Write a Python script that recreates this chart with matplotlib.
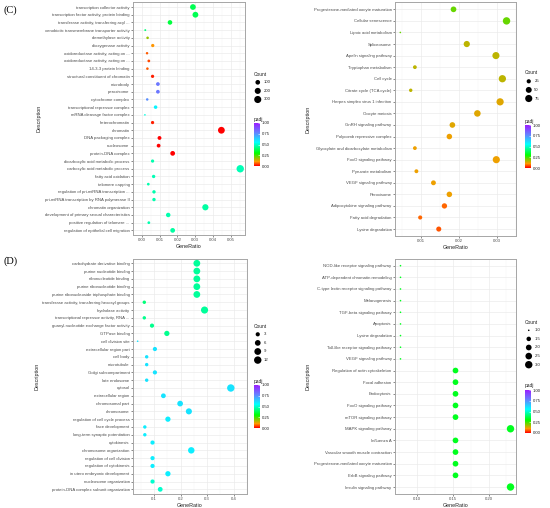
import numpy as np
import matplotlib
matplotlib.use("Agg")
import matplotlib.pyplot as plt
from matplotlib.colors import LinearSegmentedColormap, Normalize
from matplotlib.colorbar import ColorbarBase

plt.rcParams['font.family'] = ['Liberation Sans', 'DejaVu Sans']

# ---------------- data ----------------
# (C) left: GO enrichment
c_go_terms = [
    "transcription collector activity",
    "transcription factor activity, protein binding",
    "transferase activity, transferring acyl ...",
    "xenobiotic transmembrane transporter activity",
    "demethylase activity",
    "dioxygenase activity",
    "oxidoreductase activity, acting on ...",
    "oxidoreductase activity, acting on ...",
    "14-3-3 protein binding",
    "structural constituent of chromatin",
    "microbody",
    "peroxisome",
    "cytochrome complex",
    "transcriptional repressor complex",
    "mRNA cleavage factor complex",
    "heterochromatin",
    "chromatin",
    "DNA packaging complex",
    "nucleosome",
    "protein-DNA complex",
    "dicarboxylic acid metabolic process",
    "carboxylic acid metabolic process",
    "fatty acid oxidation",
    "telomere capping",
    "regulation of pri-miRNA transcription ...",
    "pri-miRNA transcription by RNA polymerase II",
    "chromatin organization",
    "development of primary sexual characteristics",
    "positive regulation of telomere ...",
    "regulation of epithelial cell migration",
]
c_go_ratio = [0.0287, 0.0301, 0.0158, 0.0019, 0.0032, 0.0061, 0.0029, 0.0039,
              0.0031, 0.0060, 0.0090, 0.0090, 0.0030, 0.0077, 0.0017, 0.0060,
              0.0447, 0.0099, 0.0094, 0.0173, 0.0060, 0.0553, 0.0066, 0.0036,
              0.0068, 0.0068, 0.0357, 0.0148, 0.0039, 0.0173]
c_go_count = [172, 181, 95, 11, 19, 37, 17, 23, 19, 36, 54, 54, 18, 46, 10, 36,
              268, 59, 56, 104, 36, 332, 40, 22, 41, 41, 214, 89, 23, 104]
c_go_padj = [0.38, 0.38, 0.36, 0.42, 0.18, 0.10, 0.06, 0.05, 0.06, 0.02,
             0.80, 0.80, 0.75, 0.57, 0.52, 0.02, 0.00, 0.00, 0.00, 0.00,
             0.47, 0.48, 0.48, 0.47, 0.47, 0.47, 0.46, 0.47, 0.47, 0.46]
c_go_xticks = [0.00, 0.01, 0.02, 0.03, 0.04, 0.05]
c_go_breaks = [100, 200, 300]

# (C) right: KEGG enrichment
c_kegg_terms = [
    "Progesterone-mediated oocyte maturation",
    "Cellular senescence",
    "Lipoic acid metabolism",
    "Spliceosome",
    "Apelin signaling pathway",
    "Tryptophan metabolism",
    "Cell cycle",
    "Citrate cycle (TCA cycle)",
    "Herpes simplex virus 1 infection",
    "Oocyte meiosis",
    "GnRH signaling pathway",
    "Polycomb repressive complex",
    "Glyoxylate and dicarboxylate metabolism",
    "FoxO signaling pathway",
    "Pyruvate metabolism",
    "VEGF signaling pathway",
    "Peroxisome",
    "Adipocytokine signaling pathway",
    "Fatty acid degradation",
    "Lysine degradation",
]
c_kegg_ratio = [0.0185, 0.0325, 0.00445, 0.0220, 0.0297, 0.0083, 0.0314, 0.0072,
                0.0308, 0.0248, 0.0182, 0.0174, 0.0083, 0.0298, 0.0087, 0.0132,
                0.0174, 0.0161, 0.0097, 0.0146]
c_kegg_count = [46, 81, 11, 55, 74, 21, 78, 18, 77, 62, 45, 43, 21, 75, 22, 33,
                43, 40, 24, 36]
c_kegg_padj = [0.22, 0.22, 0.22, 0.155, 0.155, 0.155, 0.155, 0.155, 0.126, 0.126,
               0.126, 0.114, 0.114, 0.114, 0.114, 0.114, 0.114, 0.067, 0.067, 0.055]
c_kegg_xticks = [0.01, 0.02, 0.03]
c_kegg_breaks = [25, 50, 75]

# (D) left: GO enrichment
d_go_terms = [
    "carbohydrate derivative binding",
    "purine nucleotide binding",
    "ribonucleotide binding",
    "purine ribonucleotide binding",
    "purine ribonucleoside triphosphate binding",
    "transferase activity, transferring hexosyl groups",
    "hydrolase activity",
    "transcriptional repressor activity, RNA ...",
    "guanyl-nucleotide exchange factor activity",
    "GTPase binding",
    "cell division site",
    "extracellular region part",
    "cell body",
    "microtubule",
    "Golgi subcompartment",
    "late endosome",
    "cytosol",
    "extracellular region",
    "chromosomal part",
    "chromosome",
    "regulation of cell cycle process",
    "face development",
    "long-term synaptic potentiation",
    "cytokinesis",
    "chromosome organization",
    "regulation of cell division",
    "regulation of cytokinesis",
    "in utero embryonic development",
    "nucleosome organization",
    "protein-DNA complex subunit organization",
]
d_go_ratio = [0.261, 0.261, 0.261, 0.261, 0.261, 0.063, 0.290, 0.063, 0.092, 0.148,
              0.038, 0.103, 0.072, 0.072, 0.103, 0.072, 0.389, 0.135, 0.198, 0.231,
              0.152, 0.065, 0.065, 0.094, 0.240, 0.094, 0.094, 0.152, 0.094, 0.123]
d_go_count = [9, 9, 9, 9, 9, 2, 10, 2, 3, 5,
              1, 3, 2, 2, 3, 2, 11, 4, 6, 7,
              5, 2, 2, 3, 8, 3, 3, 5, 3, 4]
d_go_padj = [0.45, 0.45, 0.45, 0.45, 0.45, 0.42, 0.45, 0.44, 0.44, 0.44,
             0.60, 0.60, 0.60, 0.60, 0.60, 0.60, 0.60, 0.60, 0.60, 0.60,
             0.58, 0.58, 0.58, 0.58, 0.58, 0.58, 0.58, 0.58, 0.50, 0.50]
d_go_xticks = [0.1, 0.2, 0.3, 0.4]
d_go_breaks = [3, 6, 9, 12]

# (D) right: KEGG enrichment
d_kegg_terms = [
    "NOD-like receptor signaling pathway",
    "ATP-dependent chromatin remodeling",
    "C-type lectin receptor signaling pathway",
    "Melanogenesis",
    "TGF-beta signaling pathway",
    "Apoptosis",
    "Lysine degradation",
    "Toll-like receptor signaling pathway",
    "VEGF signaling pathway",
    "Regulation of actin cytoskeleton",
    "Focal adhesion",
    "Endocytosis",
    "FoxO signaling pathway",
    "mTOR signaling pathway",
    "MAPK signaling pathway",
    "Influenza A",
    "Vascular smooth muscle contraction",
    "Progesterone-mediated oocyte maturation",
    "ErbB signaling pathway",
    "Insulin signaling pathway",
]
d_kegg_count = [1, 1, 1, 1, 1, 1, 1, 1, 1, 2, 2, 2, 2, 2, 3, 2, 2, 2, 2, 3]
d_kegg_total = 13
d_kegg_padj = [0.33] * 20
d_kegg_xticks = [0.10, 0.15, 0.20]
d_kegg_breaks = [1.0, 1.5, 2.0, 2.5, 3.0]

# ---------------- styling ----------------
W, H = 550, 508
cmap = LinearSegmentedColormap.from_list(
    "padj", [(0.0, "#FF0000"), (0.1, "#FF9900"), (0.3, "#00FF00"),
             (0.55, "#00FFFF"), (0.78, "#6680FF"), (1.0, "#9A1FFF")])
norm = Normalize(0, 1)
TICK_FS = 3.1
LAB_FS = 3.9
D_MIN, D_MAX = 1.6, 7.4   # point diameters in px


def px_rect(x0, y0, x1, y1):
    return [x0 / W, 1 - y1 / H, (x1 - x0) / W, (y1 - y0) / H]


def size_of(c, cmin, cmax):
    c = np.asarray(c, dtype=float)
    frac = np.clip((c - cmin) / (cmax - cmin), 0, 1)
    d = D_MIN + np.sqrt(frac) * (D_MAX - D_MIN)
    return (d * 0.72) ** 2


def draw_panel(fig, rect, terms, ratio, count, padj, xticks, xfmt,
               breaks, bfmt, leg_x, leg_y, bar_y):
    ax = fig.add_axes(px_rect(*rect))
    n = len(terms)
    ypos = np.arange(n)[::-1]
    ratio = np.asarray(ratio)
    cmin, cmax = min(count), max(count)
    ax.scatter(ratio, ypos, s=size_of(count, cmin, cmax), c=padj,
               cmap=cmap, norm=norm, linewidths=0, zorder=3)
    lo, hi = ratio.min(), ratio.max()
    pad = 0.05 * (hi - lo)
    ax.set_xlim(lo - pad, hi + pad)
    ax.set_ylim(-0.6, n - 0.4)
    ax.set_yticks(ypos)
    ax.set_yticklabels(terms, fontsize=TICK_FS, color="#4D4D4D")
    ax.set_xticks(xticks)
    ax.set_xticklabels([xfmt.format(v) for v in xticks], fontsize=TICK_FS,
                       color="#4D4D4D")
    minor = [(a + b) / 2 for a, b in zip(xticks[:-1], xticks[1:])]
    step = xticks[1] - xticks[0]
    minor = [xticks[0] - step / 2] + minor + [xticks[-1] + step / 2]
    ax.set_xticks(minor, minor=True)
    ax.tick_params(axis="x", which="minor", length=0)
    ax.tick_params(which="major", length=1.5, width=0.4, color="#333333",
                   pad=1)
    ax.grid(True, which="major", color="#EBEBEB", lw=0.5, zorder=0)
    ax.grid(True, which="minor", axis="x", color="#F2F2F2", lw=0.3, zorder=0)
    for sp in ax.spines.values():
        sp.set_color("#A6A6A6")
        sp.set_linewidth(0.7)
    ax.set_xlabel("GeneRatio", fontsize=LAB_FS, color="#222222", labelpad=1)
    ax.set_ylabel("Description", fontsize=LAB_FS, color="#222222", labelpad=2)

    # Count legend
    fig.text(leg_x / W, 1 - leg_y / H, "Count", fontsize=LAB_FS - 0.4,
             va="center", ha="left", color="#222222")
    lax = fig.add_axes(px_rect(leg_x, leg_y + 4, leg_x + 20,
                               leg_y + 4 + 8.6 * len(breaks)))
    lax.set_axis_off()
    by = np.arange(len(breaks))[::-1]
    lax.scatter(np.zeros(len(breaks)), by, s=size_of(breaks, cmin, cmax),
                color="black", linewidths=0)
    for yy, b in zip(by, breaks):
        lax.text(0.9, yy, bfmt.format(b), fontsize=TICK_FS, va="center",
                 ha="left", color="#222222")
    lax.set_xlim(-0.6, 2.6)
    lax.set_ylim(-0.5, len(breaks) - 0.5)

    # padj colorbar
    fig.text(leg_x / W, 1 - (bar_y - 4) / H, "padj", fontsize=LAB_FS - 0.4,
             va="center", ha="left", color="#222222")
    cax = fig.add_axes(px_rect(leg_x, bar_y, leg_x + 5.5, bar_y + 43))
    cb = ColorbarBase(cax, cmap=cmap, norm=norm,
                      ticks=[0, 0.25, 0.5, 0.75, 1.0])
    cb.outline.set_visible(False)
    cb.ax.set_yticklabels(["0.00", "0.25", "0.50", "0.75", "1.00"],
                          fontsize=TICK_FS, color="#222222")
    cb.ax.tick_params(length=1.2, width=0.4, color="white", direction="in",
                      pad=1.5)
    return ax


fig = plt.figure(figsize=(W / 100, H / 100), dpi=100)

draw_panel(fig, (133, 2.4, 245, 235), c_go_terms, c_go_ratio, c_go_count,
           c_go_padj, c_go_xticks, "{:.2f}", c_go_breaks, "{:d}",
           254, 74, 123)
draw_panel(fig, (395, 2.4, 516, 236), c_kegg_terms, c_kegg_ratio,
           c_kegg_count, c_kegg_padj, c_kegg_xticks, "{:.2f}",
           c_kegg_breaks, "{:d}", 525, 73, 125)
draw_panel(fig, (133, 258.6, 247, 494), d_go_terms, d_go_ratio, d_go_count,
           d_go_padj, d_go_xticks, "{:.1f}", d_go_breaks, "{:d}",
           254, 326, 385)
d_kegg_ratio = [c / d_kegg_total for c in d_kegg_count]
draw_panel(fig, (395, 258.7, 516, 494), d_kegg_terms, d_kegg_ratio,
           d_kegg_count, d_kegg_padj, d_kegg_xticks, "{:.2f}",
           d_kegg_breaks, "{:.1f}", 525, 322, 390)

fig.text(3 / W, 1 - 10 / H, "(C)", fontsize=7.5, family="Liberation Serif",
         va="center", ha="left")
fig.text(3 / W, 1 - 261 / H, "(D)", fontsize=7.5, family="Liberation Serif",
         va="center", ha="left")

fig.savefig("out.png", dpi=100)
